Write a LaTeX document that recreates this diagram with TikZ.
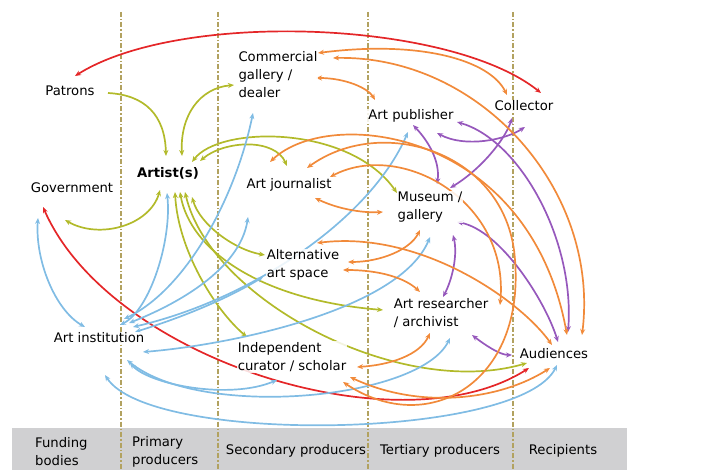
\documentclass[tikz,border=0pt]{standalone}
\usepackage{fontspec}
\setmainfont{DejaVu Sans}
\usetikzlibrary{arrows.meta,calc}
\definecolor{cred}{RGB}{228,38,40}
\definecolor{corange}{RGB}{241,138,58}
\definecolor{colive}{RGB}{178,186,42}
\definecolor{cblue}{RGB}{128,188,228}
\definecolor{cpurple}{RGB}{150,88,188}
\definecolor{cband}{RGB}{208,208,210}
\definecolor{cguide}{RGB}{178,162,96}
\pgfdeclarelayer{back}
\pgfdeclarelayer{links}
\pgfsetlayers{back,links,main}
\begin{document}
\begin{tikzpicture}[x=1pt,y=-1pt,
  >={Stealth[length=6pt,width=5pt]},
  lbl/.style={font=\fontsize{13.2}{18}\selectfont, inner sep=1pt, fill=white,
    fill opacity=0.85, text opacity=1, align=left},
  hub/.style={lbl, font=\fontsize{13.2}{18}\selectfont\bfseries},
  bandlabel/.style={font=\fontsize{13.2}{18}\selectfont, inner sep=0pt, align=left},
  link/.style={line width=1.7pt},
  guide/.style={cguide, line width=1.2pt, dash pattern=on 5pt off 2pt on 1.5pt off 2pt},
  redlink/.style={link, draw=cred, <->},
  olivelink/.style={link, draw=colive, <->},
  bluelink/.style={link, draw=cblue, <->},
  purplelink/.style={link, draw=cpurple, <->},
  orangelink/.style={link, draw=corange, <->}]
\useasboundingbox (0,0) rectangle (717,470);

% actors
\node[lbl] (patrons) at (70,91) {Patrons};
\node[lbl] (comm) at (278,75) {Commercial\\gallery /\\dealer};
\node[lbl] (collector) at (524,106) {Collector};
\node[lbl] (publisher) at (411,116) {Art publisher};
\node[hub] (artist) at (168,173) {Artist(s)};
\node[lbl] (government) at (72,188) {Government};
\node[lbl] (journalist) at (289,185) {Art journalist};
\node[lbl] (museum) at (430,207) {Museum /\\gallery};
\node[lbl] (altspace) at (303,265) {Alternative\\art space};
\node[lbl] (researcher) at (441,313) {Art researcher\\/ archivist};
\node[lbl] (institution) at (99,338) {Art institution};
\node[lbl] (curator) at (292,357) {Independent\\curator / scholar};
\node[lbl] (audiences) at (554,354) {Audiences};

% categories along the bottom
\node[bandlabel, anchor=west] (funding) at (35,452) {Funding\\bodies};
\node[bandlabel, anchor=west] (primary) at (132,452) {Primary\\producers};
\node[bandlabel] (secondary) at (296,451) {Secondary producers};
\node[bandlabel] (tertiary) at (440,451) {Tertiary producers};
\node[bandlabel] (recipients) at (563,451) {Recipients};

\begin{pgfonlayer}{back}
  \fill[cband] (12,428) rectangle (627,470);
  \foreach \gx in {121,218,368,513}
    \draw[guide] (\gx,12) -- (\gx,470);
\end{pgfonlayer}

\begin{pgfonlayer}{links}
% red
\draw[redlink] ($(patrons)+(5,-15)$) .. controls (180,10) and (450,20) .. ($(collector)+(17,-13)$);
\draw[redlink] ($(government)+(-29,19)$) .. controls (110,360) and (400,450) .. ($(audiences)+(-25,14)$);

% olive, around the artist
\draw[olivelink, <-] ($(artist)+(-2,-17)$) .. controls (165,115) and (145,95) .. ($(patrons)+(38,2)$);
\draw[olivelink] ($(artist)+(14,-17)$) .. controls (180,115) and (200,88) .. ($(comm)+(-44,10)$);
\draw[olivelink] ($(artist)+(-8,17)$) .. controls (150,225) and (100,240) .. ($(government)+(-7,32)$);
\draw[olivelink] ($(artist)+(32,-12)$) .. controls (225,140) and (275,138) .. ($(journalist)+(-2,-19)$);
\draw[olivelink] ($(artist)+(24,-11)$) .. controls (220,125) and (350,125) .. ($(museum)+(-33,-14)$);
\draw[olivelink] ($(artist)+(24,24)$) .. controls (200,225) and (235,250) .. ($(altspace)+(-38,-10)$);
\draw[olivelink] ($(artist)+(7,19)$) .. controls (178,250) and (215,310) .. ($(curator)+(-45,-20)$);
\draw[olivelink] ($(artist)+(12,19)$) .. controls (190,250) and (260,300) .. ($(researcher)+(-58,-3)$);
\draw[olivelink] ($(artist)+(17,19)$) .. controls (210,300) and (400,400) .. ($(audiences)+(-27,9)$);

% blue, around the art institution
\draw[bluelink] ($(institution)+(-14,-11)$) .. controls (55,310) and (35,260) .. ($(government)+(-34,30)$);
\draw[bluelink] ($(artist)+(-1,20)$) .. controls (172,240) and (150,310) .. ($(institution)+(21,-13)$);
\draw[bluelink] ($(comm)+(-25,38)$) .. controls (235,200) and (185,290) .. ($(institution)+(25,-19)$);
\draw[bluelink] ($(journalist)+(-41,32)$) .. controls (240,270) and (175,305) .. ($(institution)+(30,-15)$);
\draw[bluelink] ($(publisher)+(-3,16)$) .. controls (370,220) and (250,300) .. ($(institution)+(34,-11)$);
\draw[bluelink] ($(museum)+(0,30)$) .. controls (400,310) and (230,345) .. ($(institution)+(44,14)$);
\draw[bluelink] ($(altspace)+(-40,12)$) .. controls (225,300) and (180,318) .. ($(institution)+(36,-6)$);
\draw[bluelink] ($(researcher)+(9,25)$) .. controls (420,400) and (200,420) .. ($(institution)+(28,22)$);
\draw[bluelink] ($(curator)+(-15,23)$) .. controls (230,400) and (150,385) .. ($(institution)+(31,25)$);
\draw[bluelink] ($(audiences)+(3,11)$) .. controls (520,440) and (150,445) .. ($(institution)+(6,37)$);

% purple
\draw[purplelink] ($(publisher)+(2,9)$) .. controls (432,145) and (440,165) .. ($(museum)+(7,-23)$);
\draw[purplelink] ($(museum)+(20,-19)$) .. controls (480,170) and (505,140) .. ($(collector)+(-12,12)$);
\draw[purplelink] ($(publisher)+(26,17)$) .. controls (465,148) and (505,140) .. ($(collector)+(1,21)$);
\draw[purplelink] ($(publisher)+(46,6)$) .. controls (520,140) and (575,240) .. ($(audiences)+(14,-22)$);
\draw[purplelink] ($(museum)+(27,15)$) .. controls (500,230) and (545,300) .. ($(audiences)+(4,-12)$);
\draw[purplelink] ($(museum)+(23,28)$) .. controls (458,255) and (452,280) .. ($(researcher)+(2,-16)$);
\draw[purplelink] ($(researcher)+(31,22)$) .. controls (485,345) and (500,355) .. ($(audiences)+(-42,1)$);

% orange
\draw[orangelink] ($(comm)+(40,-22)$) .. controls (420,40) and (490,60) .. ($(collector)+(-17,-11)$);
\draw[orangelink] ($(comm)+(55,-17)$) .. controls (480,55) and (600,190) .. ($(audiences)+(28,-19)$);
\draw[orangelink] ($(comm)+(38,3)$) .. controls (345,78) and (368,88) .. ($(publisher)+(-36,-16)$);
\draw[orangelink] ($(journalist)+(-19,-23)$) .. controls (330,105) and (530,130) .. ($(audiences)+(13,-19)$);
\draw[orangelink] ($(journalist)+(41,-8)$) .. controls (400,140) and (510,200) .. ($(researcher)+(59,-8)$);
\draw[orangelink] ($(journalist)+(26,13)$) .. controls (340,210) and (365,213) .. ($(museum)+(-47,5)$);
\draw[orangelink] ($(altspace)+(14,-22)$) .. controls (420,230) and (520,300) .. ($(audiences)+(-2,-9)$);
\draw[orangelink] ($(museum)+(-10,23)$) .. controls (410,250) and (380,262) .. ($(altspace)+(45,-3)$);
\draw[orangelink] ($(altspace)+(40,5)$) .. controls (380,270) and (405,278) .. ($(researcher)+(-21,-21)$);
\draw[orangelink] ($(researcher)+(-11,20)$) .. controls (420,355) and (390,365) .. ($(curator)+(65,10)$);
\draw[orangelink] ($(journalist)+(18,-17)$) .. controls (380,115) and (500,150) .. (514,250)
   .. controls (530,380) and (430,440) .. ($(curator)+(51,25)$);
\draw[orangelink] ($(curator)+(58,20)$) .. controls (420,410) and (500,400) .. ($(audiences)+(-4,14)$);
\end{pgfonlayer}
\end{tikzpicture}
\end{document}
